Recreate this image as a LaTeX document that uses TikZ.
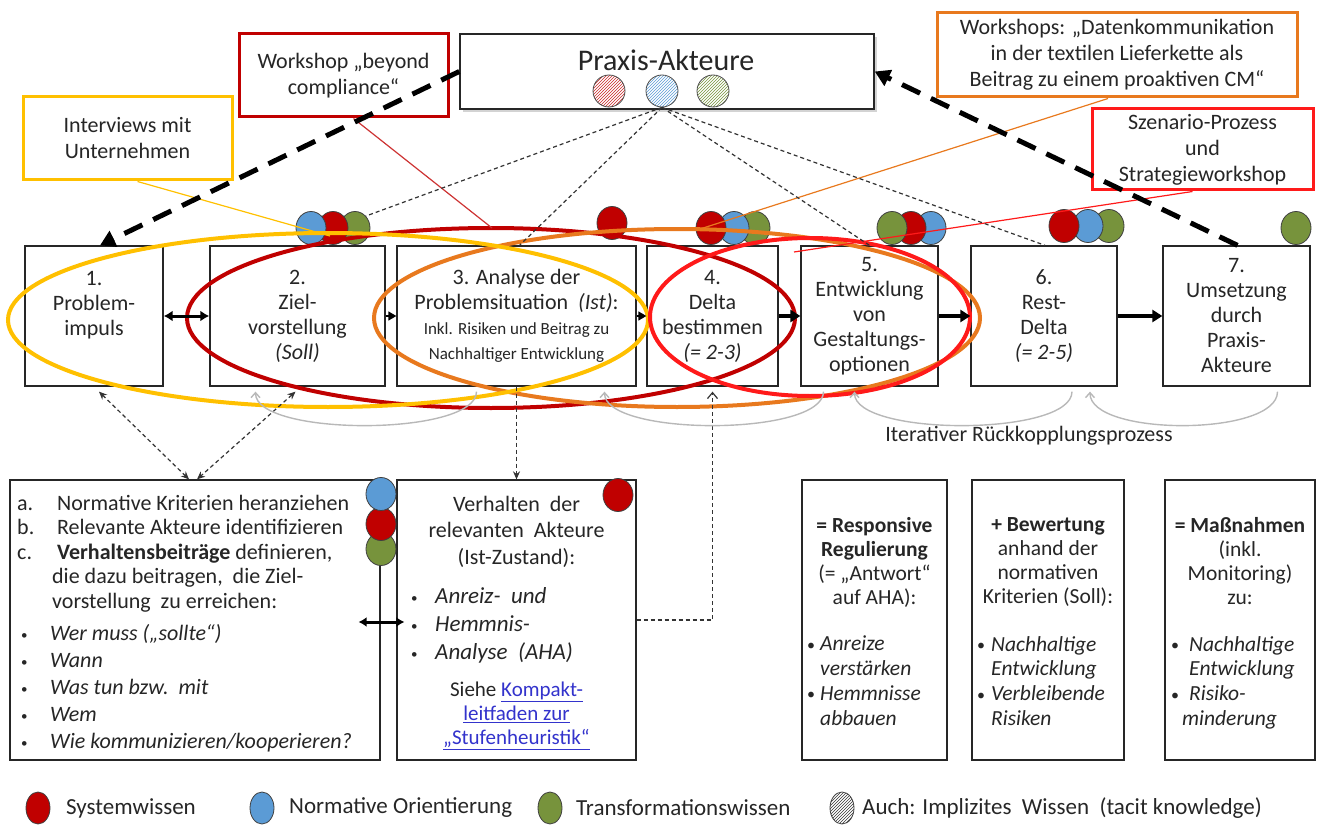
\documentclass[tikz,border=0pt]{standalone}
\usepackage{fontspec}
\setmainfont{Carlito}
\usetikzlibrary{arrows.meta,shadows,patterns,calc,shapes.geometric}
\definecolor{txt}{HTML}{262626}
\definecolor{cYel}{HTML}{FFC000}
\definecolor{cDred}{HTML}{C00000}
\definecolor{cOra}{HTML}{E8791E}
\definecolor{cRed}{HTML}{FF1A1A}
\definecolor{kRed}{HTML}{C00000}
\definecolor{kBlue}{HTML}{5B9BD5}
\definecolor{kGreen}{HTML}{77933C}
\definecolor{linkc}{HTML}{3333CC}
\newcommand{\myfs}[2]{\fontsize{#1}{#2}\selectfont}
\newcommand{\sbul}{\raisebox{1pt}{\upshape\myfs{13}{13}\textbullet}}
\newcommand{\mbul}{\raisebox{0.5pt}{\upshape\myfs{16}{16}\textbullet}}
\begin{document}
\begin{tikzpicture}[x=1pt,y=-1pt,
  every node/.style={text=txt},
  stepbox/.style={draw=black!85, line width=1.3pt, fill=white, inner sep=0pt, align=center, font=\myfs{22}{25}},
  callout/.style={draw=#1, line width=3pt, fill=white, inner sep=0pt, align=center, font=\myfs{22}{26}},
  know/.style={ellipse, draw=black!75, line width=0.8pt, fill=#1, minimum width=30pt, minimum height=33pt, inner sep=0pt},
  hatch/.style={circle, draw=black!70, line width=0.8pt, pattern=north east lines, pattern color=#1, minimum size=32pt, inner sep=0pt},
  bigdash/.style={line width=5pt, dash pattern=on 20pt off 12pt, black},
  thindash/.style={line width=1.2pt, dash pattern=on 4pt off 3pt, black!80},
  fb/.style={black!28, line width=1.4pt},
  ring/.style={line width=4pt},
  txtnode/.style={inner sep=0pt},
]
\useasboundingbox (0,0) rectangle (1318,832);

% ---------- Praxis-Akteure ----------
\node[draw=black!85, line width=1.5pt, fill=white, minimum width=414pt, minimum height=75pt,
      drop shadow={shadow xshift=3pt, shadow yshift=-3pt, opacity=0.35}] (pa) at (667,71.5) {};
\node[txtnode, font=\myfs{30}{32}] (pat) at (666,60) {Praxis-Akteure};
\node[hatch=cDred!85] (h1) at (609,91) {};
\node[hatch=kBlue] (h2) at (662,91) {};
\node[hatch=kGreen] (h3) at (713,91) {};

% ---------- callouts ----------
\node[callout=cYel, minimum width=209pt, minimum height=83pt] (intv) at (127.5,138.5) {Interviews mit\\Unternehmen};
\node[callout=cDred, minimum width=209pt, minimum height=83pt] (wbc) at (343.5,75.5) {Workshop „beyond\\compliance“};
\node[callout=cOra, minimum width=360pt, minimum height=84pt] (wsd) at (1117,55) {Workshops: „Datenkommunikation\\in der textilen Lieferkette als\\Beitrag zu einem proaktiven CM“};
\node[callout=cRed, minimum width=221pt, minimum height=81pt] (szen) at (1202.5,149.5) {Szenario-Prozess\\und\\Strategieworkshop};

% ---------- process row ----------
\node[stepbox, minimum width=138pt, minimum height=140pt] (b1) at (94,316) {1.\\Problem-\\impuls\\~};
\node[stepbox, minimum width=175pt, minimum height=140pt] (b2) at (297.5,316) {2.\\Ziel-\\vorstellung\\\textit{(Soll)}};
\node[stepbox, minimum width=239pt, minimum height=140pt] (b3) at (516.5,316) {3. Analyse der\\Problemsituation~~\textit{(Ist)}:\\{\myfs{17}{25}Inkl. Risiken und Beitrag zu}\\{\myfs{17}{25}Nachhaltiger Entwicklung}};
\node[stepbox, minimum width=131pt, minimum height=140pt] (b4) at (712.5,316) {4.\\Delta\\bestimmen\\\textit{(= 2-3)}};
\node[stepbox, minimum width=137pt, minimum height=140pt] (b5) at (869.5,316) {5.\\Entwicklung\\von\\Gestaltungs-\\optionen};
\node[stepbox, minimum width=146pt, minimum height=140pt] (b6) at (1044,316) {6.\\Rest-\\Delta\\\textit{(= 2-5)}};
\node[stepbox, minimum width=147pt, minimum height=140pt] (b7) at (1236.5,316) {7.\\Umsetzung\\durch\\Praxis-\\Akteure};

% ---------- bottom boxes ----------
\node[stepbox, minimum width=370pt, minimum height=280pt] (bl) at (195,620) {};
\node[stepbox, minimum width=239pt, minimum height=280pt] (bm) at (516.5,620) {};
\node[stepbox, minimum width=145pt, minimum height=280pt] (r1) at (874.5,620) {};
\node[stepbox, minimum width=152pt, minimum height=280pt] (r2) at (1048,620) {};
\node[stepbox, minimum width=150pt, minimum height=280pt] (r3) at (1240,620) {};

\node[txtnode, anchor=north west, align=left, font=\myfs{22}{24.5}] (blt) at (17,495) {%
\makebox[40pt][l]{a.}Normative Kriterien heranziehen\\
\makebox[40pt][l]{b.}Relevante Akteure identifizieren\\
\makebox[40pt][l]{c.}\textbf{Verhaltensbeiträge} definieren,\\
\hspace*{35pt}die dazu beitragen,\ \ die Ziel-\\
\hspace*{35pt}vorstellung\ \ zu erreichen:\\[8pt]
\makebox[33pt][l]{\hspace{4pt}\sbul}\textit{Wer muss („sollte“)}\\[2pt]
\makebox[33pt][l]{\hspace{4pt}\sbul}\textit{Wann}\\[3pt]
\makebox[33pt][l]{\hspace{4pt}\sbul}\textit{Was tun bzw.\ \ mit}\\[2pt]
\makebox[33pt][l]{\hspace{4pt}\sbul}\textit{Wem}\\[3pt]
\makebox[33pt][l]{\hspace{4pt}\sbul}\textit{Wie kommunizieren/kooperieren?}};

\node[txtnode, anchor=north, align=center, font=\myfs{22}{26.5}] (bmh) at (516.5,496) {Verhalten\ \ der\\relevanten\ \ Akteure\\(Ist-Zustand):};
\node[txtnode, anchor=north west, align=left, font=\myfs{23}{28}\itshape] (bml) at (409,587) {%
\makebox[26pt][l]{\hspace{2pt}\sbul}Anreiz-\ \ und\\
\makebox[26pt][l]{\hspace{2pt}\sbul}Hemmnis-\\
\makebox[26pt][l]{\hspace{2pt}\sbul}Analyse\ \ (AHA)};
\node[txtnode, anchor=north, align=center, font=\myfs{21}{24}] (bmk) at (516.5,682) {Siehe \textcolor{linkc}{\underline{Kompakt-}}\\\textcolor{linkc}{\underline{leitfaden zur}}\\\textcolor{linkc}{\underline{„Stufenheuristik“}}};

\node[txtnode, anchor=north, align=center, font=\myfs{21.5}{24}] (r1h) at (874.5,517) {\textbf{= Responsive}\\\textbf{Regulierung}\\(= „Antwort“\\auf AHA):};
\node[txtnode, anchor=north west, align=left, font=\myfs{21.5}{24.7}\itshape] (r1l) at (807,636) {%
\makebox[13pt][l]{\mbul}Anreize\\\hspace*{13pt}verstärken\\\makebox[13pt][l]{\mbul}Hemmnisse\\\hspace*{13pt}abbauen};
\node[txtnode, anchor=north, align=center, font=\myfs{21.5}{24}] (r2h) at (1048,517) {\textbf{+ Bewertung}\\anhand der\\normativen\\Kriterien (Soll):};
\node[txtnode, anchor=north west, align=left, font=\myfs{21.5}{24.7}\itshape] (r2l) at (977,636) {%
\makebox[14pt][l]{\mbul}Nachhaltige\\\hspace*{14pt}Entwicklung\\\makebox[14pt][l]{\mbul}Verbleibende\\\hspace*{14pt}Risiken};
\node[txtnode, anchor=north, align=center, font=\myfs{21.5}{24}] (r3h) at (1240,517) {\textbf{= Maßnahmen}\\(inkl.\\Monitoring)\\zu:};
\node[txtnode, anchor=north west, align=left, font=\myfs{21.5}{24.7}\itshape] (r3l) at (1171,636) {%
\makebox[18pt][l]{\mbul}Nachhaltige\\\hspace*{18pt}Entwicklung\\\makebox[18pt][l]{\mbul}Risiko-\\\hspace*{11pt}minderung};

% ---------- knowledge circles ----------
\node[know=kGreen] (c2g) at (355,228) {};
\node[know=kRed] (c2r) at (333,228) {};
\node[know=kBlue] (c2b) at (311,228) {};
\node[know=kRed] (c3r) at (612,223) {};
\node[know=kGreen] (c4g) at (755,228) {};
\node[know=kBlue] (c4b) at (734,228) {};
\node[know=kRed] (c4r) at (711,228) {};
\node[know=kBlue] (c5b) at (931,228) {};
\node[know=kRed] (c5r) at (911,228) {};
\node[know=kGreen] (c5g) at (892,228) {};
\node[know=kGreen] (c6g) at (1109,226) {};
\node[know=kBlue] (c6b) at (1088,226) {};
\node[know=kRed] (c6r) at (1064,226) {};
\node[know=kGreen] (c7g) at (1296,228) {};
\node[know=kGreen] (blg) at (381,549) {};
\node[know=kRed] (blr) at (381,524) {};
\node[know=kBlue] (blb) at (381,494) {};
\node[know=kRed] (bmc) at (618,495) {};

% ---------- ellipses ----------
\draw[ring, cDred] (491,318) ellipse [x radius=304, y radius=90];
\draw[ring, cOra] (677,318) ellipse [x radius=303, y radius=89];
\draw[ring, cYel] (328,320) ellipse [x radius=320, y radius=87];
\draw[ring, cRed] (810,317) ellipse [x radius=160, y radius=79];

% ---------- callout connectors ----------
\coordinate (ey) at (330,236);
\coordinate (ed) at (492,228);
\coordinate (eo) at (700,229);
\coordinate (er) at (794,252);
\draw[cYel, line width=1.2pt] ($(intv.south)+(10,0)$) -- (ey);
\draw[cDred!80, line width=1.2pt] ($(wbc.south)+(10,0)$) -- (ed);
\draw[cOra, line width=1.2pt] ($(wsd.south)+(-9,0)$) -- (eo);
\draw[cRed, line width=1.2pt] ($(szen.south)+(-10,0)$) -- (er);

% ---------- praxis dashed links ----------
\draw[thindash] (h2.south) -- (c2g.north east);
\draw[thindash] (h2.south) -- ($(b3.north)+(3,0)$);
\draw[thindash] (h2.south) -- (b5.north);
\draw[thindash] (h2.south) -- ($(b6.north)+(1,0)$);

% ---------- thick dashed arrows ----------
\draw[bigdash, -{Triangle[length=15pt,width=17pt]}] (pa.west) -- ($(b1.north)+(6,0)$);
\draw[bigdash, -{Triangle[length=15pt,width=17pt]}] ($(b7.north)+(1,0)$) -- (pa.east);

% ---------- row arrows ----------
\draw[line width=3pt, {Latex[length=9pt,width=11pt]}-{Latex[length=9pt,width=11pt]}] (b1.east) -- (b2.west);
\draw[line width=1.5pt, -{Triangle[length=8pt,width=9pt]}] (b2.east) -- (b3.west);
\draw[line width=1.5pt, -{Triangle[length=8pt,width=9pt]}] (b3.east) -- (b4.west);
\draw[line width=3.5pt, -{Triangle[length=10pt,width=12pt]}] (b4.east) -- (b5.west);
\draw[line width=3.5pt, -{Triangle[length=10pt,width=12pt]}] (b5.east) -- (b6.west);
\draw[line width=3.5pt, -{Triangle[length=10pt,width=12pt]}] (b6.east) -- (b7.west);

% ---------- lower connectors ----------
\draw[thindash, {Stealth[length=8pt,width=7pt]}-{Stealth[length=8pt,width=7pt]}] ($(b1.south)+(5,5)$) -- ($(bl.north)+(-6,0)$);
\draw[thindash, {Stealth[length=8pt,width=7pt]}-{Stealth[length=8pt,width=7pt]}] ($(b2.south)+(-2,5)$) -- ($(bl.north)+(2,0)$);
\draw[thindash, -{Stealth[length=8pt,width=7pt]}] (b3.south) -- (bm.north);
\draw[thindash, -{Straight Barb[length=6pt,width=10pt]}] (bm.east) -| ($(b4.south)+(0,5)$);
\draw[line width=3pt, {Latex[length=8pt,width=10pt]}-{Latex[length=8pt,width=10pt]}] ($(bl.east)+(-22,2)$) -- ($(bm.west)+(8,2)$);

% ---------- feedback arcs ----------
\draw[fb, {Straight Barb[length=5pt,width=9pt]}-] ($(b2.south)+(-42,5)$) .. controls ($(b2.south)+(-42,50)$) and ($(b3.south)+(-40,50)$) .. ($(b3.south)+(-40,5)$);
\draw[fb, {Straight Barb[length=5pt,width=9pt]}-] ($(b3.south)+(88,5)$) .. controls ($(b3.south)+(88,50)$) and ($(b5.south)+(-46,50)$) .. ($(b5.south)+(-46,5)$);
\draw[fb, {Straight Barb[length=5pt,width=9pt]}-] ($(b5.south)+(-15,5)$) .. controls ($(b5.south)+(-15,50)$) and ($(b6.south)+(28,50)$) .. ($(b6.south)+(28,5)$);
\draw[fb, {Straight Barb[length=5pt,width=9pt]}-] ($(b6.south)+(46,5)$) .. controls ($(b6.south)+(46,50)$) and ($(b7.south)+(41,50)$) .. ($(b7.south)+(41,5)$);
\node[txtnode, font=\myfs{22}{24}] (itp) at (1029,436) {Iterativer Rückkopplungsprozess};

% ---------- legend ----------
\node[know=kRed, minimum width=24pt, minimum height=32pt] (lr) at (38,808) {};
\node[txtnode, anchor=west, font=\myfs{23}{25}] (lrt) at (66,808) {Systemwissen};
\node[know=kBlue, minimum width=24pt, minimum height=32pt] (lb) at (262,808) {};
\node[txtnode, anchor=west, font=\myfs{23}{25}] (lbt) at (289,808) {Normative Orientierung};
\node[know=kGreen, minimum width=24pt, minimum height=32pt] (lg) at (550,808) {};
\node[txtnode, anchor=west, font=\myfs{23}{25}] (lgt) at (576,808) {Transformationswissen};
\node[ellipse, draw=black!75, line width=0.8pt, pattern=north east lines, pattern color=black!80, minimum width=24pt, minimum height=32pt, inner sep=0pt] (lh) at (842,808) {};
\node[txtnode, anchor=west, font=\myfs{23}{25}] (lht) at (862,808) {Auch: Implizites\ \ Wissen\ \ (tacit knowledge)};
\end{tikzpicture}
\end{document}
